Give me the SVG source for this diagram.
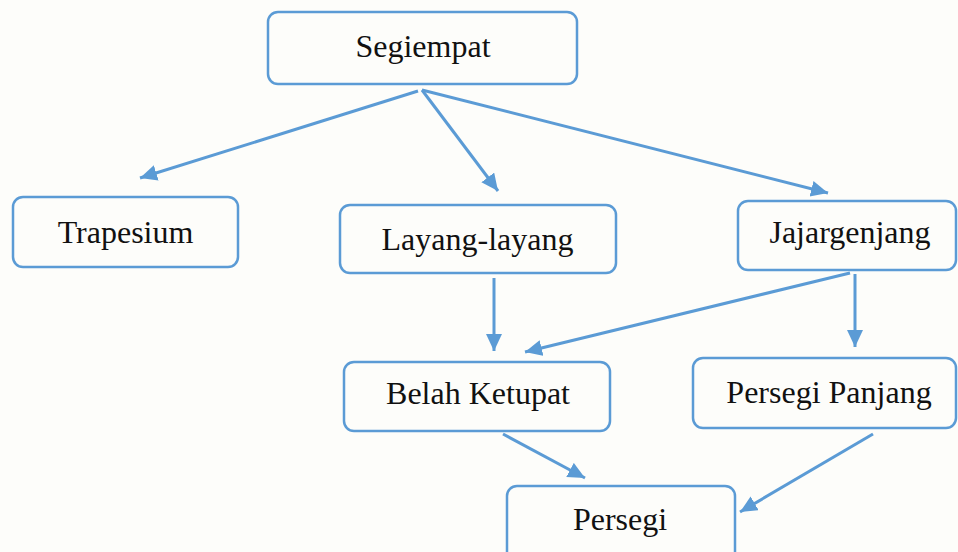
<svg xmlns="http://www.w3.org/2000/svg" width="958" height="552" viewBox="0 0 958 552">
<defs>
<style>
.box{fill:none;stroke:#5B9BD5;stroke-width:2.5}
.lbl{font-family:"Liberation Serif","Times New Roman",serif;font-size:32px;fill:#111;text-anchor:middle}
.conn{stroke:#5B9BD5;stroke-width:3;fill:none;marker-end:url(#ah)}
</style>
<marker id="ah" markerUnits="userSpaceOnUse" markerWidth="19" markerHeight="17" refX="17" refY="8" orient="auto">
<path d="M0,0 L17,8 L0,16 z" fill="#5B9BD5"/>
</marker>
</defs>
<rect width="958" height="552" fill="#FDFDFA"/>
<g id="connectors">
<line class="conn" x1="418" y1="91" x2="140" y2="178"/>
<line class="conn" x1="422" y1="90" x2="498" y2="191"/>
<line class="conn" x1="422" y1="90" x2="828" y2="193"/>
<line class="conn" x1="494" y1="278" x2="494" y2="351"/>
<line class="conn" x1="850" y1="273" x2="525" y2="352"/>
<line class="conn" x1="855" y1="274" x2="855" y2="347"/>
<line class="conn" x1="503" y1="434" x2="585" y2="478"/>
<line class="conn" x1="873" y1="434" x2="740" y2="512"/>
</g>
<g id="segiempat"><rect class="box" x="268" y="12" width="309" height="72" rx="10"/><text class="lbl" x="423" y="57">Segiempat</text></g>
<g id="trapesium"><rect class="box" x="13" y="197" width="225" height="70" rx="10"/><text class="lbl" x="125.5" y="243">Trapesium</text></g>
<g id="layang"><rect class="box" x="340" y="205" width="276" height="68" rx="10"/><text class="lbl" x="477.5" y="250">Layang-layang</text></g>
<g id="jajargenjang"><rect class="box" x="738" y="201" width="218" height="69" rx="10"/><text class="lbl" x="850" y="243">Jajargenjang</text></g>
<g id="belahketupat"><rect class="box" x="344" y="362" width="266" height="69" rx="10"/><text class="lbl" x="478" y="404">Belah Ketupat</text></g>
<g id="persegipanjang"><rect class="box" x="693" y="358" width="263" height="70" rx="10"/><text class="lbl" x="829" y="403">Persegi Panjang</text></g>
<g id="persegi"><rect class="box" x="507" y="486" width="228" height="80" rx="10"/><text class="lbl" x="620" y="530">Persegi</text></g>
</svg>
